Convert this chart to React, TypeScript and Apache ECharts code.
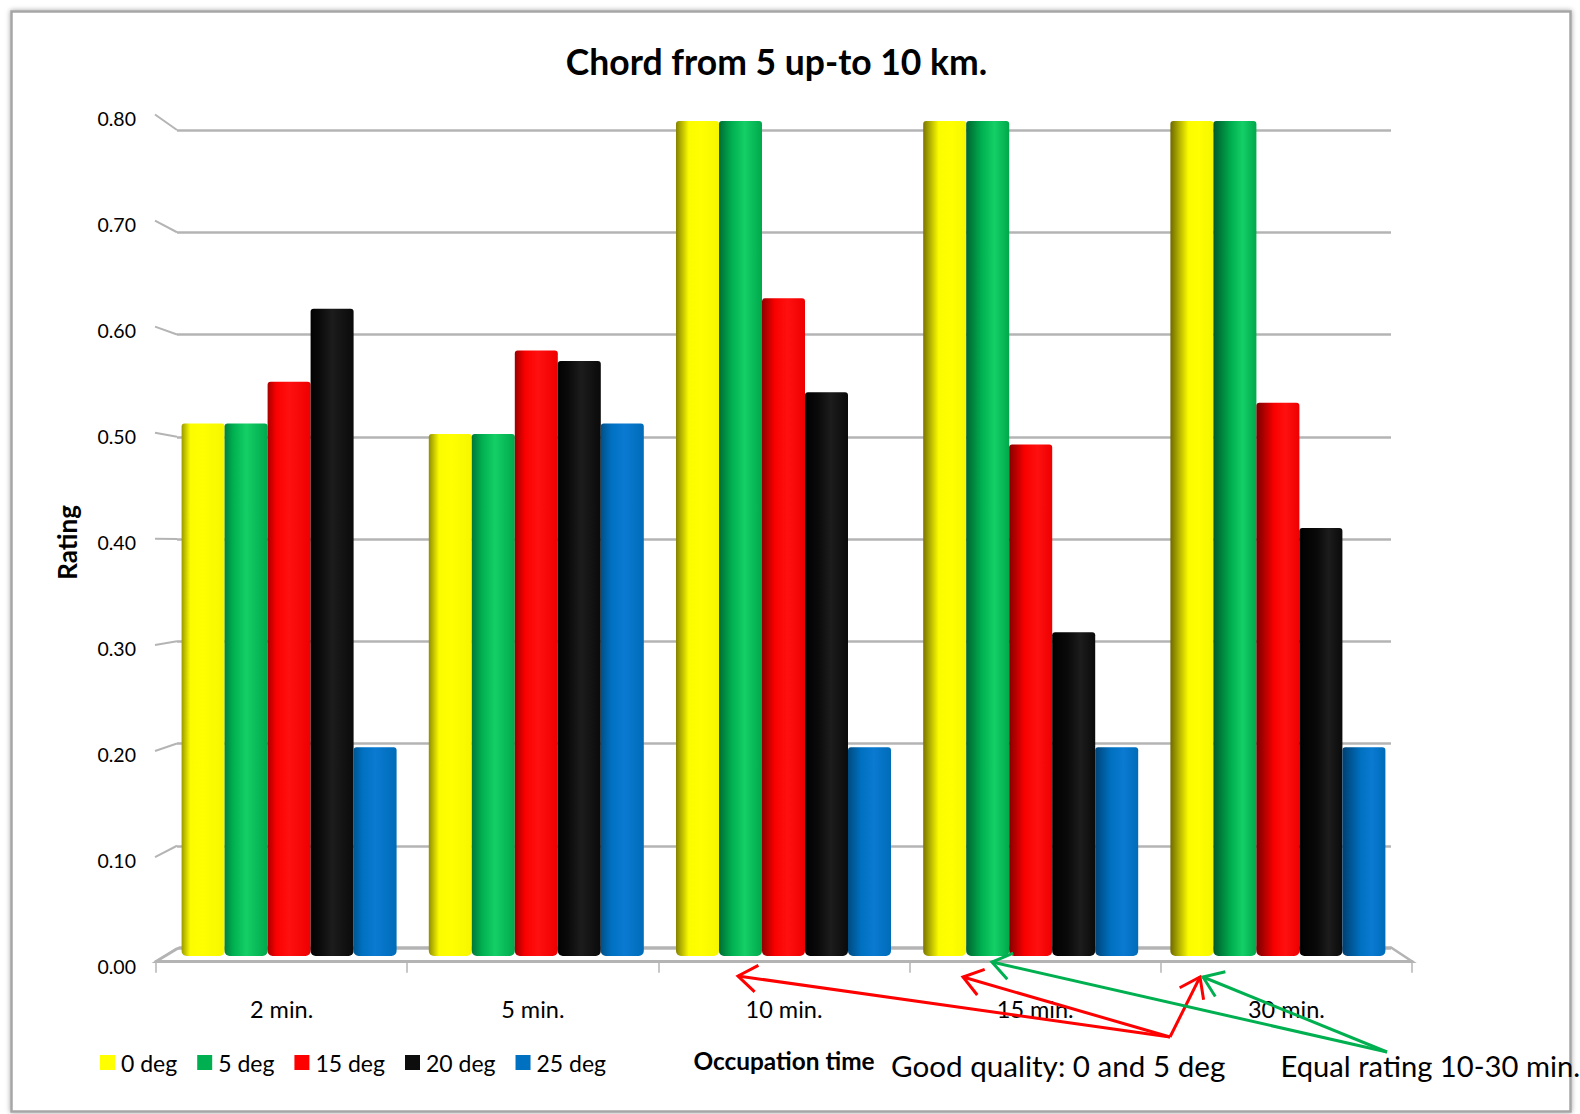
import React, { useEffect, useRef } from "react";
import * as echarts from "echarts";

const categories = ["2 min.", "5 min.", "10 min.", "15 min.", "30 min."];
const seriesNames = ["0 deg", "5 deg", "15 deg", "20 deg", "25 deg"];
const deg0 = [0.51, 0.5, 0.8, 0.8, 0.8];
const deg5 = [0.51, 0.5, 0.8, 0.8, 0.8];
const deg15 = [0.55, 0.58, 0.63, 0.49, 0.53];
const deg20 = [0.62, 0.57, 0.54, 0.31, 0.41];
const deg25 = [0.2, 0.51, 0.2, 0.2, 0.2];
const seriesValues = [deg0, deg5, deg15, deg20, deg25];
const yTicks = [0, 0.1, 0.2, 0.3, 0.4, 0.5, 0.6, 0.7, 0.8];

// Cylinder shading: [left edge in first group, left edge in last group, body, highlight, right edge]
const shades = [
  ["#9a9a00", "#6e6a00", "#fcfc00", "#ffff00", "#f6f600"],
  ["#00803f", "#005a2b", "#00b050", "#14cf66", "#00a84c"],
  ["#a80000", "#7a0000", "#fa0000", "#ff1010", "#ee0000"],
  ["#020202", "#000000", "#0a0a0a", "#1c1c1c", "#0a0a0a"],
  ["#005690", "#003f70", "#0070c0", "#0a7ad2", "#006cb8"],
];
// Width of the dark band on the left of a cylinder, per category
const edgeWidth = [0.2, 0.24, 0.3, 0.36, 0.42];

const FONT = "Lato";
const GREY = "#b4b4b4";

const BACK = { left: 177, right: 1391, top: 130, bottom: 948 };
const FRONT = { left: 156, right: 1412, top: 118, bottom: 966.7 };

function arrow(from: number[], to: number[], color: string) {
  const a = Math.atan2(from[1] - to[1], from[0] - to[0]);
  const len = 23;
  const spread = 0.62;
  const head = [
    [to[0] + len * Math.cos(a + spread), to[1] + len * Math.sin(a + spread)],
    to,
    [to[0] + len * Math.cos(a - spread), to[1] + len * Math.sin(a - spread)],
  ];
  return [
    { type: "polyline", z: 20, shape: { points: [from, to] }, style: { stroke: color, lineWidth: 3, fill: "none" } },
    { type: "polyline", z: 20, shape: { points: head }, style: { stroke: color, lineWidth: 3, fill: "none" } },
  ];
}

function cylinder(seriesIndex: number, groupIndex: number) {
  const [e0, e1, body, high, right] = shades[seriesIndex];
  const edge = echarts.color.lerp(groupIndex / 4, [e0, e1]) as string;
  const w = edgeWidth[groupIndex];
  return new echarts.graphic.LinearGradient(0, 0, 1, 0, [
    { offset: 0, color: edge },
    { offset: w, color: body },
    { offset: Math.min(w + 0.3, 0.68), color: high },
    { offset: 1, color: right },
  ]);
}

export default function App() {
  const ref = useRef<HTMLDivElement>(null);
  useEffect(() => {
    document.body.style.margin = "0";
    const chart = echarts.init(ref.current!, null, { renderer: "svg" });
    const backH = BACK.bottom - BACK.top;
    const frontH = FRONT.bottom - FRONT.top;
    const slants = yTicks.map((v) => {
      const f = v / 0.8;
      return {
        type: "line",
        z: 1,
        shape: {
          x1: FRONT.left - 1,
          y1: FRONT.bottom - f * frontH - (v === 0 ? 5 : 3.5),
          x2: BACK.left,
          y2: BACK.bottom - f * backH,
        },
        style: { stroke: GREY, lineWidth: 2 },
      };
    });
    chart.setOption({
      animation: false,
      backgroundColor: "#ffffff",
      title: {
        text: "Chord from 5 up-to 10 km.",
        left: 771.5,
        top: 38,
        textAlign: "center",
        textStyle: { fontFamily: FONT, fontSize: 35.5, fontWeight: "bold", color: "#000" },
      },
      legend: {
        left: 100,
        top: 1051,
        padding: 0,
        itemWidth: 15,
        itemHeight: 15,
        itemGap: 20,
        data: seriesNames,
        icon: "rect",
        textStyle: { fontFamily: FONT, fontSize: 23, color: "#000", padding: [0, 0, 0, 1] },
      },
      grid: [
        { left: 165.5, width: 1236, top: 120.9, height: 835 },
        { left: BACK.left, width: BACK.right - BACK.left, top: BACK.top, height: backH },
        { left: FRONT.left, width: FRONT.right - FRONT.left, top: FRONT.top, height: frontH },
        { left: FRONT.left, width: FRONT.right - FRONT.left, top: 200, height: 761.7 },
      ],
      xAxis: [
        { type: "category", gridIndex: 0, data: categories, show: false },
        { type: "category", gridIndex: 1, data: categories, show: false },
        { type: "category", gridIndex: 2, data: categories, show: false },
        {
          type: "category",
          gridIndex: 3,
          data: categories,
          axisLine: { lineStyle: { color: GREY, width: 3 } },
          axisTick: { show: true, length: 11, lineStyle: { color: GREY, width: 1.5 } },
          axisLabel: { fontFamily: FONT, fontSize: 23.5, color: "#000", margin: 35 },
          name: "Occupation time",
          nameLocation: "middle",
          nameGap: 87,
          nameTextStyle: { fontFamily: FONT, fontSize: 24.4, fontWeight: "bold", color: "#000" },
        },
      ],
      yAxis: [
        { type: "value", gridIndex: 0, min: 0, max: 0.8, interval: 0.1, show: false },
        {
          type: "value",
          gridIndex: 1,
          min: 0,
          max: 0.8,
          interval: 0.1,
          axisLine: { show: false },
          axisTick: { show: false },
          axisLabel: { show: false },
          splitLine: {
            show: true,
            lineStyle: { color: GREY, width: 2.5 },
          },
        },
        {
          type: "value",
          gridIndex: 2,
          min: 0,
          max: 0.8,
          interval: 0.1,
          axisLine: { show: false },
          axisTick: { show: false },
          splitLine: { show: false },
          axisLabel: {
            fontFamily: FONT,
            fontSize: 19.5,
            color: "#000",
            margin: 20,
            formatter: (v: number) => v.toFixed(2),
          },
          name: "Rating",
          nameLocation: "middle",
          nameGap: 76,
          nameTextStyle: { fontFamily: FONT, fontSize: 26, fontWeight: "bold", color: "#000" },
        },
        { type: "value", gridIndex: 3, min: 0, max: 0.8, show: false },
      ],
      color: ["#ffff00", "#00b050", "#ff0000", "#0d0d0d", "#0070c0"],
      series: seriesNames.map((name, i) => ({
        type: "bar",
        name,
        xAxisIndex: 0,
        yAxisIndex: 0,
        z: 5,
        barWidth: 43,
        barGap: 0,
        data: seriesValues[i].map((value, g) => ({
          value,
          itemStyle: { color: cylinder(i, g), borderRadius: [3, 3, 5, 5] },
        })),
      })),
      graphic: [
        {
          type: "rect",
          z: -10,
          shape: { x: 11.5, y: 11.5, width: 1559, height: 1100 },
          style: { fill: "#fff", stroke: "#a6a6a6", lineWidth: 2.5, shadowBlur: 5, shadowColor: "rgba(0,0,0,0.35)" },
        },
        {
          type: "polygon",
          z: 0,
          shape: { points: [[156, 961.7], [179.6, 947.5], [1391, 947.5], [1412.6, 961.7]] },
          style: { fill: "#fff", stroke: GREY, lineWidth: 2.5 },
        },
        ...slants,
        ...arrow([1170, 1037], [738, 976], "#ff0000"),
        ...arrow([1170, 1037], [963, 977], "#ff0000"),
        ...arrow([1170, 1037], [1200, 977], "#ff0000"),
        ...arrow([1387, 1052], [992, 962], "#00b050"),
        ...arrow([1387, 1052], [1203, 977], "#00b050"),
        {
          type: "text",
          z: 21,
          x: 891,
          y: 1065,
          style: { text: "Good quality: 0 and 5 deg", fontFamily: FONT, fontSize: 29.6, fill: "#000", verticalAlign: "middle" },
        },
        {
          type: "text",
          z: 21,
          x: 1280.5,
          y: 1065,
          style: { text: "Equal rating 10-30 min.", fontFamily: FONT, fontSize: 29.2, fill: "#000", verticalAlign: "middle" },
        },
      ],
    });
    return () => chart.dispose();
  }, []);
  return <div ref={ref} style={{ position: "absolute", left: 0, top: 0, width: 1580, height: 1114 }} />;
}
